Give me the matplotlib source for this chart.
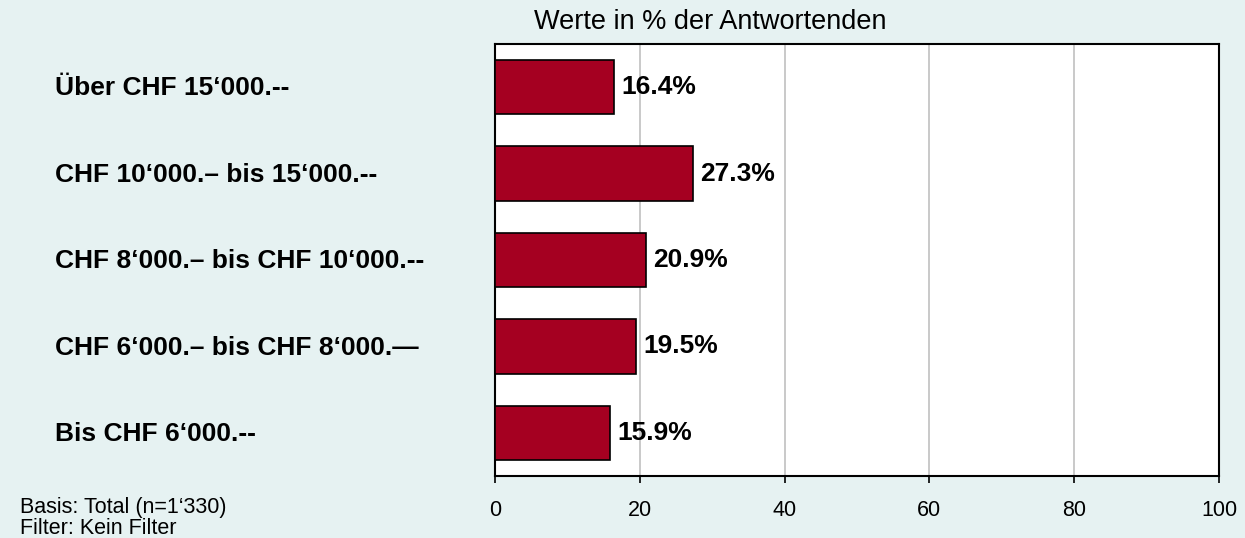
import matplotlib
matplotlib.use("Agg")
import matplotlib.pyplot as plt
from matplotlib.transforms import blended_transform_factory

categories = ["Über CHF 15‘000.--",
              "CHF 10‘000.– bis 15‘000.--",
              "CHF 8‘000.– bis CHF 10‘000.--",
              "CHF 6‘000.– bis CHF 8‘000.—",
              "Bis CHF 6‘000.--"]
values = [16.4, 27.3, 20.9, 19.5, 15.9]
xticks = [0, 20, 40, 60, 80, 100]

plt.rcParams['font.family'] = ['Liberation Sans', 'DejaVu Sans']
bg = '#E6F2F2'
bar_color = '#A50021'

W, H = 1245, 538
fig = plt.figure(figsize=(W/100, H/100), dpi=100, facecolor=bg)
ax = fig.add_axes([495/W, 1-476/H, (1219-495)/W, (476-44)/H])
ax.set_facecolor('white')

ypos = list(range(len(categories)))
ax.barh(ypos, values, height=0.63, color=bar_color, edgecolor='black', linewidth=1.2, zorder=3)
ax.set_ylim(len(categories)-0.5, -0.5)
ax.set_xlim(0, 100)
ax.set_xticks(xticks)
ax.set_xticklabels([str(t) for t in xticks], fontsize=15.5)
ax.tick_params(axis='x', direction='out', length=5, width=1.2, pad=12, colors='black')
ax.set_yticks([])
for t in xticks[1:-1]:
    ax.axvline(t, color='#C0C0C0', linewidth=1.2, zorder=1)
for s in ax.spines.values():
    s.set_linewidth(1.5)
    s.set_color('black')

for y, v in zip(ypos, values):
    ax.text(v + 1.0, y, f"{v:.1f}%", va='center', ha='left', fontsize=19, fontweight='bold', zorder=4)

tr = blended_transform_factory(fig.transFigure, ax.transData)
for y, c in zip(ypos, categories):
    ax.text(55/W, y + 0.015, c, transform=tr, va='center', ha='left', fontsize=19, fontweight='bold', clip_on=False)

fig.text(710/W, 1-22/H, "Werte in % der Antwortenden", ha='center', va='center', fontsize=19.5)
fig.text(20/W, 1-507/H, "Basis: Total (n=1‘330)", ha='left', va='center', fontsize=15.5)
fig.text(20/W, 1-528/H, "Filter: Kein Filter", ha='left', va='center', fontsize=15.5)

fig.savefig("out.png", dpi=100, facecolor=bg)
